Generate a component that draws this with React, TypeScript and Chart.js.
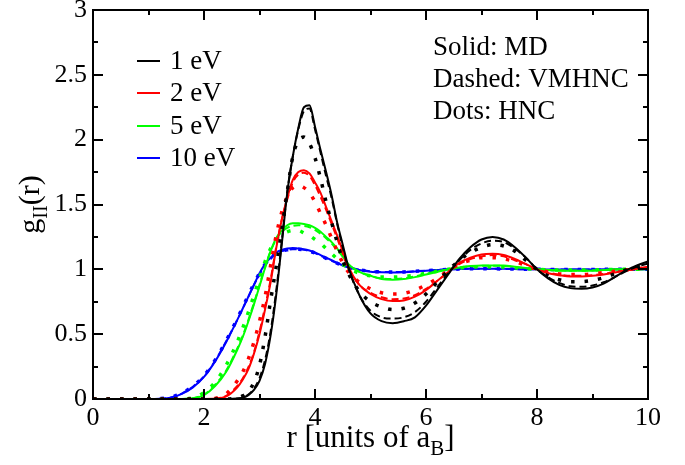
import React, { useEffect, useRef } from "react";
import { Chart, registerables } from "chart.js";

Chart.register(...registerables);

// r grid [units of a_B]
const R = [
  0, 1.0, 1.2, 1.4, 1.6, 1.8, 2.0, 2.2, 2.4, 2.6,
  2.7, 2.8, 2.9, 3.0, 3.1, 3.2, 3.3, 3.4, 3.5, 3.6,
  3.7, 3.8, 3.9, 4.0, 4.1, 4.2, 4.3, 4.4, 4.5, 4.6,
  4.8, 5.0, 5.2, 5.4, 5.6, 5.8, 6.0, 6.2, 6.4, 6.6,
  6.8, 7.0, 7.2, 7.4, 7.6, 7.8, 8.0, 8.2, 8.4, 8.6,
  8.8, 9.0, 9.2, 9.4, 9.6, 9.8, 10.0,
];

// 1 eV
const MD_1 = [
  0, 0, 0, 0, 0, 0, 0, 0, 0, 0.003,
  0.01, 0.03, 0.07, 0.14, 0.27, 0.49, 0.8, 1.19, 1.59, 1.87,
  2.09, 2.25, 2.265, 2.1, 1.92, 1.75, 1.57, 1.36, 1.19, 1.02,
  0.8, 0.66, 0.6, 0.585, 0.6, 0.63, 0.72, 0.84, 0.96, 1.08,
  1.17, 1.23, 1.25, 1.23, 1.17, 1.09, 1.0, 0.93, 0.88, 0.855,
  0.85, 0.86, 0.89, 0.94, 0.99, 1.03, 1.06,
];
const VM_1 = [
  0, 0, 0, 0, 0, 0, 0, 0, 0, 0.003,
  0.012, 0.035, 0.08, 0.16, 0.3, 0.52, 0.83, 1.21, 1.6, 1.87,
  2.08, 2.22, 2.24, 2.08, 1.9, 1.72, 1.55, 1.35, 1.17, 1.01,
  0.8, 0.68, 0.63, 0.62, 0.63, 0.67, 0.75, 0.86, 0.97, 1.07,
  1.15, 1.2, 1.22, 1.21, 1.16, 1.09, 1.0, 0.94, 0.895, 0.87,
  0.865, 0.875, 0.9, 0.94, 0.985, 1.02, 1.045,
];
const HNC_1 = [
  0, 0, 0, 0, 0, 0, 0, 0, 0, 0.01,
  0.025, 0.06, 0.13, 0.26, 0.48, 0.76, 1.02, 1.3, 1.6, 1.87,
  1.99, 2.02, 1.97, 1.86, 1.7, 1.52, 1.36, 1.21, 1.07, 0.97,
  0.83, 0.75, 0.71, 0.69, 0.7, 0.74, 0.81, 0.9, 0.99, 1.07,
  1.13, 1.17, 1.19, 1.18, 1.14, 1.07, 1.0, 0.95, 0.92, 0.905,
  0.905, 0.915, 0.935, 0.965, 0.995, 1.02, 1.03,
];

// 2 eV
const MD_2 = [
  0, 0, 0, 0, 0, 0, 0, 0.003, 0.02, 0.09,
  0.15, 0.23, 0.35, 0.5, 0.69, 0.9, 1.16, 1.38, 1.55, 1.69,
  1.75, 1.765, 1.74, 1.67, 1.59, 1.48, 1.37, 1.26, 1.14, 1.02,
  0.88, 0.81, 0.77, 0.755, 0.76, 0.79, 0.84, 0.91, 0.98, 1.05,
  1.09, 1.115, 1.12, 1.11, 1.08, 1.04, 1.0, 0.97, 0.955, 0.945,
  0.945, 0.95, 0.96, 0.975, 0.99, 1.005, 1.02,
];
const VM_2 = [
  0, 0, 0, 0, 0, 0, 0, 0.004, 0.025, 0.1,
  0.16, 0.245, 0.36, 0.52, 0.71, 0.92, 1.17, 1.38, 1.54, 1.67,
  1.73, 1.745, 1.72, 1.65, 1.56, 1.46, 1.35, 1.24, 1.12, 1.01,
  0.88, 0.82, 0.785, 0.77, 0.775, 0.8, 0.85, 0.91, 0.98, 1.04,
  1.08, 1.1, 1.11, 1.1, 1.07, 1.04, 1.0, 0.975, 0.96, 0.95,
  0.95, 0.955, 0.965, 0.98, 0.99, 1.005, 1.015,
];
const HNC_2 = [
  0, 0, 0, 0, 0, 0, 0, 0.005, 0.04, 0.14,
  0.21, 0.31, 0.44, 0.6, 0.79, 1.03, 1.26, 1.44, 1.56, 1.63,
  1.645, 1.63, 1.59, 1.52, 1.43, 1.34, 1.24, 1.14, 1.05, 0.98,
  0.9, 0.85, 0.82, 0.81, 0.815, 0.84, 0.88, 0.93, 0.99, 1.04,
  1.07, 1.09, 1.09, 1.08, 1.06, 1.03, 1.0, 0.98, 0.965, 0.96,
  0.96, 0.965, 0.975, 0.985, 0.995, 1.005, 1.01,
];

// 5 eV
const MD_5 = [
  0, 0, 0, 0, 0, 0.005, 0.03, 0.1, 0.21, 0.38,
  0.48, 0.6, 0.73, 0.87, 1.01, 1.14, 1.24, 1.3, 1.34, 1.355,
  1.355, 1.35, 1.34, 1.32, 1.29, 1.25, 1.21, 1.16, 1.1, 1.04,
  0.98, 0.95, 0.925, 0.92, 0.925, 0.94, 0.96, 0.98, 1.0, 1.015,
  1.025, 1.03, 1.03, 1.03, 1.02, 1.01, 1.0, 0.995, 0.99, 0.99,
  0.99, 0.99, 0.995, 1.0, 1.0, 1.0, 1.0,
];
const VM_5 = [
  0, 0, 0, 0, 0, 0.006, 0.035, 0.11, 0.22, 0.39,
  0.49, 0.61, 0.74, 0.88, 1.02, 1.14, 1.23, 1.29, 1.32, 1.335,
  1.34, 1.335, 1.325, 1.305, 1.275, 1.24, 1.2, 1.15, 1.1, 1.04,
  0.98, 0.95, 0.93, 0.925, 0.93, 0.945, 0.965, 0.985, 1.0, 1.013,
  1.022, 1.027, 1.028, 1.026, 1.018, 1.008, 1.0, 0.995, 0.992, 0.991,
  0.991, 0.992, 0.995, 0.998, 1.0, 1.0, 1.0,
];
const HNC_5 = [
  0, 0, 0, 0, 0, 0.01, 0.05, 0.13, 0.26, 0.44,
  0.55, 0.67, 0.8, 0.93, 1.06, 1.16, 1.23, 1.27, 1.29, 1.3,
  1.3, 1.28, 1.26, 1.23, 1.2, 1.16, 1.12, 1.08, 1.04, 1.01,
  0.97, 0.95, 0.94, 0.94, 0.945, 0.955, 0.97, 0.985, 1.0, 1.01,
  1.017, 1.02, 1.02, 1.018, 1.012, 1.005, 1.0, 0.996, 0.994, 0.994,
  0.994, 0.995, 0.997, 0.999, 1.0, 1.0, 1.0,
];

// 10 eV
const MD_10 = [
  0, 0, 0.002, 0.01, 0.04, 0.09, 0.17, 0.29, 0.44, 0.61,
  0.7, 0.79, 0.88, 0.97, 1.04, 1.09, 1.13, 1.15, 1.16, 1.165,
  1.16, 1.155, 1.145, 1.13, 1.11, 1.09, 1.07, 1.05, 1.03, 1.015,
  0.995, 0.982, 0.977, 0.976, 0.978, 0.983, 0.99, 0.995, 1.0, 1.003,
  1.005, 1.005, 1.005, 1.004, 1.002, 1.0, 1.0, 0.999, 0.998, 0.998,
  0.998, 0.999, 1.0, 1.0, 1.0, 1.0, 1.0,
];
const VM_10 = [
  0, 0, 0.002, 0.012, 0.042, 0.095, 0.175, 0.295, 0.445, 0.61,
  0.7, 0.79, 0.88, 0.96, 1.03, 1.08, 1.12, 1.14, 1.15, 1.155,
  1.155, 1.15, 1.14, 1.125, 1.105, 1.085, 1.065, 1.047, 1.03, 1.015,
  0.997, 0.985, 0.98, 0.979, 0.98, 0.985, 0.99, 0.995, 1.0, 1.002,
  1.004, 1.004, 1.004, 1.003, 1.002, 1.0, 1.0, 0.999, 0.999, 0.999,
  0.999, 0.999, 1.0, 1.0, 1.0, 1.0, 1.0,
];
const HNC_10 = [
  0, 0, 0.003, 0.014, 0.045, 0.1, 0.18, 0.3, 0.45, 0.62,
  0.71, 0.8, 0.89, 0.97, 1.04, 1.09, 1.12, 1.14, 1.15, 1.155,
  1.155, 1.15, 1.14, 1.125, 1.105, 1.085, 1.065, 1.047, 1.03, 1.015,
  0.997, 0.985, 0.98, 0.979, 0.98, 0.985, 0.99, 0.995, 1.0, 1.002,
  1.004, 1.004, 1.004, 1.003, 1.002, 1.0, 1.0, 0.999, 0.999, 0.999,
  0.999, 0.999, 1.0, 1.0, 1.0, 1.0, 1.0,
];

const LEGEND_LABELS = ["1 eV", "2 eV", "5 eV", "10 eV"];
const COLORS = ["#000000", "#ff0000", "#00ff00", "#0000ff"];
const NOTE_LINES = ["Solid: MD", "Dashed: VMHNC", "Dots: HNC"];
const X_TICKS_STEP = 2;
const Y_TICKS_STEP = 0.5;

const SERIF = '"Liberation Serif", "Times New Roman", serif';

const toXY = (ys: number[]) => R.map((r, i) => ({ x: r, y: ys[i] }));

const GROUPS = [
  [MD_1, VM_1, HNC_1],
  [MD_2, VM_2, HNC_2],
  [MD_5, VM_5, HNC_5],
  [MD_10, VM_10, HNC_10],
];

function buildDatasets() {
  const ds: any[] = [];
  GROUPS.forEach((g, gi) => {
    const c = COLORS[gi];
    ds.push({
      label: LEGEND_LABELS[gi] + " MD",
      data: toXY(g[0]),
      borderColor: c,
      borderWidth: 2,
    });
    ds.push({
      label: LEGEND_LABELS[gi] + " VMHNC",
      data: toXY(g[1]),
      borderColor: c,
      borderWidth: 2,
      borderDash: [7, 4],
    });
    ds.push({
      label: LEGEND_LABELS[gi] + " HNC",
      data: toXY(g[2]),
      borderColor: c,
      borderWidth: 3.5,
      borderDash: [3.5, 10],
    });
  });
  return ds;
}

function drawSegments(ctx: CanvasRenderingContext2D, segs: { t: string; size: number; dy: number }[], cx: number, baseY: number) {
  let total = 0;
  segs.forEach((s) => {
    ctx.font = `${s.size}px ${SERIF}`;
    total += ctx.measureText(s.t).width;
  });
  let x = cx - total / 2;
  segs.forEach((s) => {
    ctx.font = `${s.size}px ${SERIF}`;
    ctx.fillText(s.t, x, baseY + s.dy);
    x += ctx.measureText(s.t).width;
  });
}

const decorPlugin = {
  id: "decor",
  afterDatasetsDraw(chart: any) {
    const { ctx, chartArea: a, scales } = chart;
    const xs = scales.x;
    const ys = scales.y;
    ctx.save();
    ctx.strokeStyle = "#000";
    ctx.lineWidth = 2;
    ctx.strokeRect(a.left, a.top, a.right - a.left, a.bottom - a.top);
    ctx.beginPath();
    for (let v = 0; v <= 10; v++) {
      const px = Math.round(xs.getPixelForValue(v));
      const len = v % 2 === 0 ? 10 : 5;
      ctx.moveTo(px, a.bottom);
      ctx.lineTo(px, a.bottom - len);
      ctx.moveTo(px, a.top);
      ctx.lineTo(px, a.top + len);
    }
    for (let i = 0; i <= 12; i++) {
      const py = Math.round(ys.getPixelForValue(i * 0.25));
      const len = i % 2 === 0 ? 10 : 5;
      ctx.moveTo(a.left, py);
      ctx.lineTo(a.left + len, py);
      ctx.moveTo(a.right, py);
      ctx.lineTo(a.right - len, py);
    }
    ctx.stroke();
    ctx.restore();
  },
  afterDraw(chart: any) {
    const { ctx, chartArea: a } = chart;
    ctx.save();
    ctx.fillStyle = "#000";
    ctx.textAlign = "left";

    // legend
    const legY = [61, 93, 126, 158];
    LEGEND_LABELS.forEach((lab, i) => {
      ctx.strokeStyle = COLORS[i];
      ctx.lineWidth = 2;
      ctx.beginPath();
      ctx.moveTo(137, legY[i]);
      ctx.lineTo(160, legY[i]);
      ctx.stroke();
      ctx.font = `27px ${SERIF}`;
      ctx.textBaseline = "middle";
      ctx.fillText(lab, 170, legY[i] + 1);
    });

    // notes
    const noteY = [47, 79, 111];
    NOTE_LINES.forEach((t, i) => {
      ctx.font = `27px ${SERIF}`;
      ctx.textBaseline = "middle";
      ctx.fillText(t, 433, noteY[i] + 1);
    });

    // x title
    ctx.textBaseline = "alphabetic";
    drawSegments(
      ctx,
      [
        { t: "r [units of a", size: 31, dy: 0 },
        { t: "B", size: 21, dy: 8 },
        { t: "]", size: 31, dy: 0 },
      ],
      (a.left + a.right) / 2,
      447
    );

    // y title
    ctx.save();
    ctx.translate(39, (a.top + a.bottom) / 2);
    ctx.rotate(-Math.PI / 2);
    drawSegments(
      ctx,
      [
        { t: "g", size: 30, dy: 0 },
        { t: "II", size: 20, dy: 8 },
        { t: "(r)", size: 30, dy: 0 },
      ],
      0,
      0
    );
    ctx.restore();
    ctx.restore();
  },
};

export default function App() {
  const ref = useRef<HTMLCanvasElement>(null);
  useEffect(() => {
    if (!ref.current) return;
    const chart = new Chart(ref.current, {
      type: "line",
      data: { datasets: buildDatasets() },
      options: {
        responsive: false,
        animation: false,
        events: [],
        layout: { padding: { left: 0, right: 37, top: 10, bottom: 0 } },
        elements: {
          point: { radius: 0 },
          line: { cubicInterpolationMode: "monotone", fill: false, borderCapStyle: "butt" },
        },
        plugins: { legend: { display: false }, tooltip: { enabled: false } },
        scales: {
          x: {
            type: "linear",
            min: 0,
            max: 10,
            grid: { display: false, drawTicks: false },
            border: { display: false },
            ticks: {
              stepSize: X_TICKS_STEP,
              color: "#000",
              padding: 4,
              font: { family: SERIF, size: 26 },
              maxRotation: 0,
            },
            afterFit: (s: any) => {
              s.height = 66;
              s.paddingLeft = 0;
              s.paddingRight = 0;
            },
          },
          y: {
            type: "linear",
            min: 0,
            max: 3,
            grid: { display: false, drawTicks: false },
            border: { display: false },
            ticks: {
              stepSize: Y_TICKS_STEP,
              color: "#000",
              padding: 6,
              font: { family: SERIF, size: 26 },
              callback: (v: any) => String(v),
            },
            afterFit: (s: any) => {
              s.width = 93;
              s.paddingTop = 0;
              s.paddingBottom = 0;
            },
          },
        },
      } as any,
      plugins: [decorPlugin],
    });
    return () => chart.destroy();
  }, []);
  return (
    <div style={{ position: "fixed", left: 0, top: 0, width: 685, height: 465, background: "#fff" }}>
      <canvas ref={ref} width={685} height={465} style={{ width: 685, height: 465, display: "block" }} />
    </div>
  );
}
